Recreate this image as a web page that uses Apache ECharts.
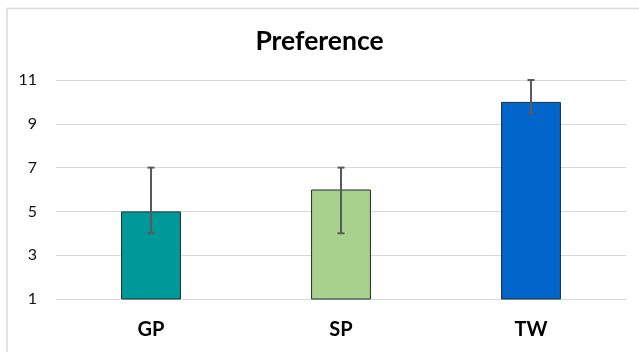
<!DOCTYPE html>
<html><head><meta charset="utf-8">
<script src="https://cdn.jsdelivr.net/npm/echarts@6/dist/echarts.min.js"></script>
<style>html,body{margin:0;padding:0;background:#fff}#c{width:639px;height:352px}</style>
</head><body><div id="c"></div>
<script>
const categories = ['GP', 'SP', 'TW'];
const values = [5, 6, 10];
const errLow = [4, 4, 9.5];
const errHigh = [7, 7, 11];
const barColors = ['#009999', '#A9D18E', '#0066CC'];
const yTicks = [1, 3, 5, 7, 9, 11];

const chart = echarts.init(document.getElementById('c'), null, {renderer: 'canvas'});
chart.setOption({
  animation: false,
  backgroundColor: '#fff',
  graphic: [{type: 'rect', shape: {x: 7, y: 8.5, width: 700, height: 400}, style: {fill: 'none', stroke: '#d9d9d9', lineWidth: 1.5}, silent: true}],
  title: {text: 'Preference', left: 'center', top: 23, textStyle: {fontFamily: 'Lato', fontWeight: 'bold', fontSize: 26.5, color: '#000'}},
  grid: {left: 56, right: 13, top: 80, bottom: 53},
  xAxis: {type: 'category', data: categories, axisLine: {show: false}, axisTick: {show: false},
    axisLabel: {fontFamily: 'Lato', fontWeight: 'bold', fontSize: 20, color: '#000', margin: 21}},
  yAxis: {type: 'value', min: yTicks[0], max: yTicks[yTicks.length-1], interval: 2,
    axisLine: {show: false}, axisTick: {show: false},
    axisLabel: {fontFamily: 'Lato', fontSize: 16, color: '#111', margin: 19},
    splitLine: {lineStyle: {color: '#d9d9d9', width: 1}}},
  series: [
    {type: 'bar', barWidth: '31.5%', data: values.map((v, i) => ({value: v, itemStyle: {color: barColors[i]}})),
     itemStyle: {borderColor: '#1e2e2e', borderWidth: 1}},
    {type: 'custom', z: 5, data: categories.map((c, i) => [i, errLow[i], errHigh[i]]),
     renderItem: function (params, api) {
       const x = api.coord([api.value(0), 0])[0];
       const lo = api.coord([api.value(0), api.value(1)])[1];
       const hi = api.coord([api.value(0), api.value(2)])[1];
       const hw = 3.5;
       const st = {stroke: '#595959', lineWidth: 2};
       return {type: 'group', children: [
         {type: 'line', shape: {x1: x, y1: lo, x2: x, y2: hi}, style: st},
         {type: 'line', shape: {x1: x - hw, y1: lo, x2: x + hw, y2: lo}, style: st},
         {type: 'line', shape: {x1: x - hw, y1: hi, x2: x + hw, y2: hi}, style: st}
       ]};
     }}
  ]
});
</script></body></html>
